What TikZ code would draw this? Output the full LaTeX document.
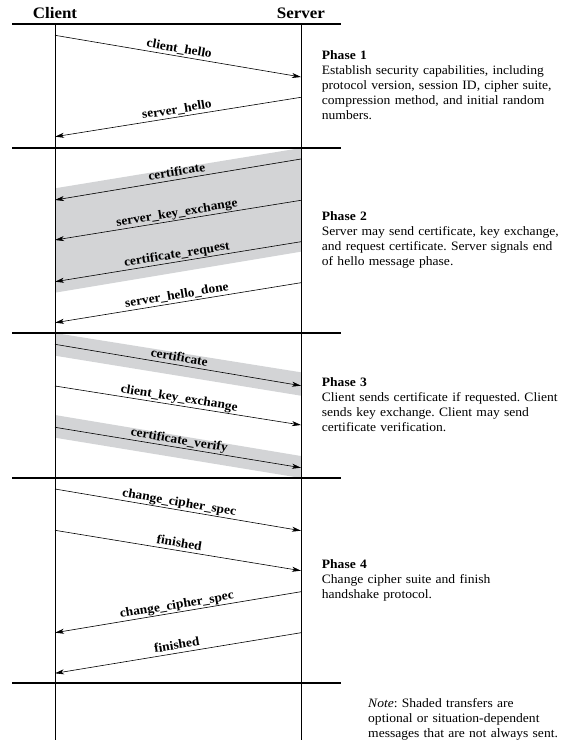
\documentclass[tikz,border=0pt]{standalone}
\usepackage{fontspec}
\setmainfont[FakeStretch=1.06]{Liberation Serif}
\usetikzlibrary{arrows.meta}
\definecolor{band}{RGB}{211,212,214}
\frenchspacing
\begin{document}
\begin{tikzpicture}[x=1pt,y=-1pt,
  sep/.style={line width=1.2pt},
  life/.style={line width=0.8pt},
  msg/.style={line width=0.6pt,-{Stealth[length=9pt,width=5pt,inset=2.5pt]}},
  lbl/.style={midway,sloped,above,inner sep=0pt,text depth=3.5pt,
    font=\fontsize{12.7}{14}\selectfont\bfseries},
  hdr/.style={anchor=base,inner sep=0pt,font=\fontsize{16}{18}\selectfont\bfseries},
  phase/.style={anchor=base west,inner sep=0pt,text width=240pt,align=left,
    font=\fontsize{12.8}{15}\selectfont},
  shade/.style={fill=band,draw=none}]
\useasboundingbox (0,0) rectangle (568,749);
% shaded bands
\fill[shade] (55,188.3) -- (301,148) -- (301,251.7) -- (55,292.7) -- cycle;
\fill[shade] (55,333) -- (301,372.3) -- (301,395.7) -- (55,355.7) -- cycle;
\fill[shade] (55,415) -- (301,456) -- (301,478) -- (55,437.7) -- cycle;
% headers
\node[hdr] (client) at (55,18.3) {Client};
\node[hdr] (server) at (301,18.3) {Server};
% lifelines
\coordinate (ct) at (55,24); \coordinate (cb) at (55,740);
\coordinate (st) at (301,24); \coordinate (sb) at (301,740);
\draw[life] (ct) -- (cb);
\draw[life] (st) -- (sb);
% separators
\foreach \y/\n in {24/a,148/b,333/c,478/d,683/e}{
  \coordinate (l\n) at (12,\y); \coordinate (r\n) at (341,\y);
  \draw[sep] (l\n) -- (r\n);
}
% phase 1
\coordinate (m1a) at (55,35.3);  \coordinate (m1b) at (301,77);
\coordinate (m2a) at (301,97.3); \coordinate (m2b) at (55,136.7);
\draw[msg] (m1a) -- node[lbl]{client\_hello} (m1b);
\draw[msg] (m2a) -- node[lbl]{server\_hello} (m2b);
% phase 2
\coordinate (m3a) at (301,159);   \coordinate (m3b) at (55,200);
\coordinate (m4a) at (301,200.3); \coordinate (m4b) at (55,240);
\coordinate (m5a) at (301,241.7); \coordinate (m5b) at (55,281.7);
\coordinate (m6a) at (301,282.7); \coordinate (m6b) at (55,322.7);
\draw[msg] (m3a) -- node[lbl]{certificate} (m3b);
\draw[msg] (m4a) -- node[lbl]{server\_key\_exchange} (m4b);
\draw[msg] (m5a) -- node[lbl]{certificate\_request} (m5b);
\draw[msg] (m6a) -- node[lbl]{server\_hello\_done} (m6b);
% phase 3
\coordinate (m7a) at (55,344.3); \coordinate (m7b) at (301,385.7);
\coordinate (m8a) at (55,386);   \coordinate (m8b) at (301,425);
\coordinate (m9a) at (55,427.3); \coordinate (m9b) at (301,467.7);
\draw[msg] (m7a) -- node[lbl]{certificate} (m7b);
\draw[msg] (m8a) -- node[lbl]{client\_key\_exchange} (m8b);
\draw[msg] (m9a) -- node[lbl]{certificate\_verify} (m9b);
% phase 4
\coordinate (mAa) at (55,489);    \coordinate (mAb) at (301,530.7);
\coordinate (mBa) at (55,530.3);  \coordinate (mBb) at (301,570.7);
\coordinate (mCa) at (301,591.7); \coordinate (mCb) at (55,632.7);
\coordinate (mDa) at (301,632.7); \coordinate (mDb) at (55,673.3);
\draw[msg] (mAa) -- node[lbl]{change\_cipher\_spec} (mAb);
\draw[msg] (mBa) -- node[lbl]{finished} (mBb);
\draw[msg] (mCa) -- node[lbl]{change\_cipher\_spec} (mCb);
\draw[msg] (mDa) -- node[lbl]{finished} (mDb);
% phase descriptions
\node[phase] (p1) at (321.7,60) {\textbf{Phase 1}\\Establish security capabilities, including\\protocol version, session ID, cipher suite,\\compression method, and initial random\\numbers.};
\node[phase] (p2) at (321.7,220.7) {\textbf{Phase 2}\\Server may send certificate, key exchange,\\and request certificate. Server signals end\\of hello message phase.};
\node[phase] (p3) at (321.7,386) {\textbf{Phase 3}\\Client sends certificate if requested. Client\\sends key exchange. Client may send\\certificate verification.};
\node[phase] (p4) at (321.7,568.3) {\textbf{Phase 4}\\Change cipher suite and finish\\handshake protocol.};
\node[phase] (note) at (368,707) {\textit{Note}: Shaded transfers are\\optional or situation-dependent\\messages that are not always sent.};
\end{tikzpicture}
\end{document}
